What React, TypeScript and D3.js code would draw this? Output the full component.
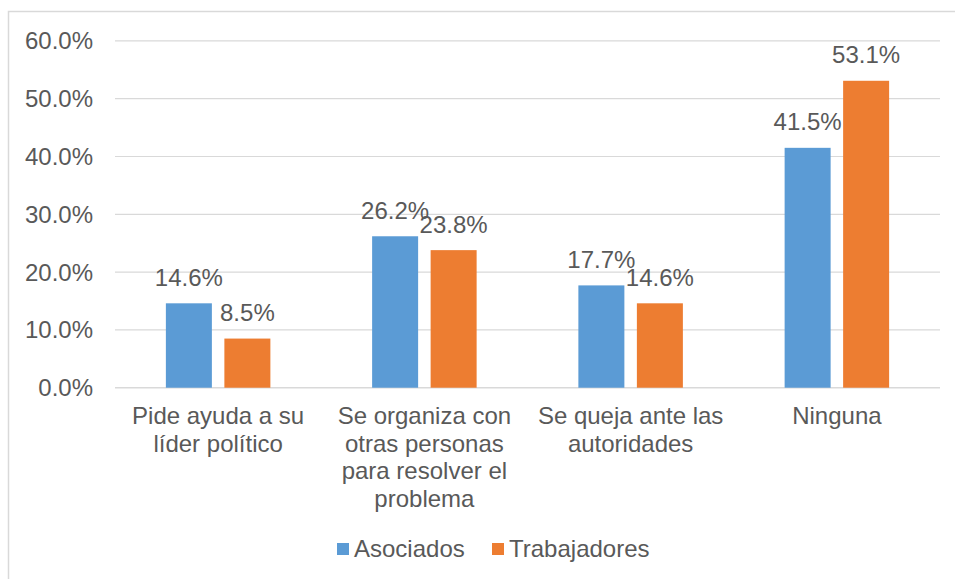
import React from "react";
import * as d3 from "d3";

const categories: string[][] = [
  ["Pide ayuda a su", "líder político"],
  ["Se organiza con", "otras personas", "para resolver el", "problema"],
  ["Se queja ante las", "autoridades"],
  ["Ninguna"],
];
const seriesNames = ["Asociados", "Trabajadores"];
const asociados = [14.6, 26.2, 17.7, 41.5];
const trabajadores = [8.5, 23.8, 14.6, 53.1];
const yTicks = [0, 10, 20, 30, 40, 50, 60];
const colors = ["#5B9BD5", "#ED7D31"];

const W = 955;
const H = 579;
const plotLeft = 115;
const plotRight = 940;
const plotTop = 40.9;
const plotBottom = 387.7;
const FONT = "'Liberation Sans', Arial, sans-serif";
const TEXT = "#595959";

export default function App() {
  const x = d3
    .scaleBand<number>()
    .domain(categories.map((_, i) => i))
    .range([plotLeft, plotRight]);
  const y = d3.scaleLinear().domain([0, 60]).range([plotBottom, plotTop]);
  const barW = 46;
  const gap = 12.5;
  const series = [asociados, trabajadores];

  return (
    <svg
      width={W}
      height={H}
      style={{ position: "absolute", left: 0, top: 0, background: "#fff" }}
      fontFamily={FONT}
    >
      <rect x={8.5} y={11.5} width={1000} height={1000} fill="#fff" stroke="#D9D9D9" strokeWidth={1.5} />
      {yTicks.map((t) => (
        <g key={t}>
          <line x1={plotLeft} x2={plotRight} y1={y(t)} y2={y(t)} stroke="#D9D9D9" strokeWidth={t === 0 ? 1.5 : 1.2} />
          <text x={93} y={y(t) + 8.5} textAnchor="end" fontSize={24} fill={TEXT}>
            {t.toFixed(1)}%
          </text>
        </g>
      ))}
      {categories.map((_, i) => {
        const c = (x(i) as number) + x.bandwidth() / 2;
        return series.map((vals, s) => {
          const bx = s === 0 ? c - gap / 2 - barW : c + gap / 2;
          const v = vals[i];
          return (
            <g key={`${i}-${s}`}>
              <rect x={bx} y={y(v)} width={barW} height={plotBottom - y(v)} fill={colors[s]} />
              <text x={bx + barW / 2} y={y(v) - 17.5} textAnchor="middle" fontSize={24} fill={TEXT}>
                {v.toFixed(1)}%
              </text>
            </g>
          );
        });
      })}
      {categories.map((lines, i) => {
        const c = (x(i) as number) + x.bandwidth() / 2;
        return (
          <text key={i} textAnchor="middle" fontSize={24} fill={TEXT}>
            {lines.map((l, k) => (
              <tspan key={k} x={c} y={424 + k * 27.5}>
                {l}
              </tspan>
            ))}
          </text>
        );
      })}
      {seriesNames.map((n, s) => {
        const lx = s === 0 ? 337 : 492;
        return (
          <g key={n}>
            <rect x={lx} y={543} width={12} height={12} fill={colors[s]} />
            <text x={lx + 17} y={556.5} fontSize={24} fill={TEXT}>
              {n}
            </text>
          </g>
        );
      })}
    </svg>
  );
}
